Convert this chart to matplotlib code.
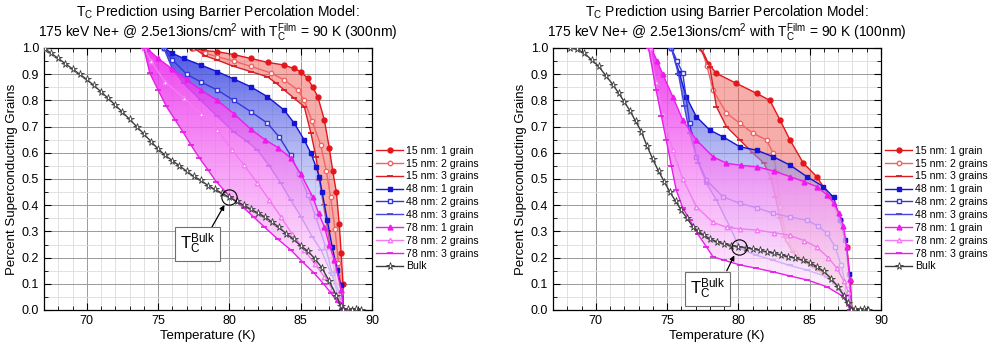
import matplotlib
matplotlib.use('Agg')
import matplotlib.pyplot as plt
from matplotlib.patches import Polygon
from matplotlib.ticker import MultipleLocator
import numpy as np

plt.rcParams['font.family'] = ['Liberation Sans', 'DejaVu Sans']
plt.rcParams['mathtext.default'] = 'regular'

# ---- data: (temperature K, fraction) ----
# left panel: 300 nm film
L_BULK = [(67.1, 0.995), (67.5, 0.98), (68.0, 0.96), (68.5, 0.94), (69.0, 0.92), (69.5, 0.90),
          (70.0, 0.88), (70.5, 0.857), (71.0, 0.833), (71.5, 0.808), (72.0, 0.782), (72.5, 0.755),
          (73.0, 0.728), (73.5, 0.70), (74.0, 0.672), (74.5, 0.643), (75.0, 0.615), (75.5, 0.59),
          (76.0, 0.57), (76.5, 0.55), (77.0, 0.53), (77.5, 0.51), (78.0, 0.495), (78.5, 0.475),
          (79.0, 0.46), (79.5, 0.445), (80.0, 0.43), (80.5, 0.415), (81.0, 0.40), (81.5, 0.385),
          (82.0, 0.37), (82.5, 0.355), (83.0, 0.335), (83.5, 0.315), (84.0, 0.29), (84.5, 0.27),
          (85.0, 0.245), (85.5, 0.225), (86.0, 0.195), (86.5, 0.16), (87.0, 0.11), (87.5, 0.055),
          (87.8, 0.015), (88.0, 0.0), (88.3, 0.005), (88.6, 0.0), (88.9, 0.004), (89.2, 0.0)]
L_RED1 = [(77.4, 1.0), (78.2, 0.99), (79.15, 0.986), (80.3, 0.975), (81.5, 0.96), (82.7, 0.945),
          (83.84, 0.935), (84.5, 0.922), (85.02, 0.91), (85.49, 0.884), (85.85, 0.85), (86.2, 0.814),
          (86.66, 0.725), (87.0, 0.62), (87.25, 0.53), (87.5, 0.45), (87.7, 0.33), (87.84, 0.216),
          (87.96, 0.10), (88.0, 0.0)]
L_RED2 = [(77.5, 1.0), (78.3, 0.98), (79.15, 0.967), (80.3, 0.95), (81.5, 0.93), (82.9, 0.905),
          (83.84, 0.878), (84.79, 0.84), (85.25, 0.80), (85.8, 0.72), (86.4, 0.63), (86.8, 0.53),
          (87.1, 0.43), (87.4, 0.31), (87.65, 0.18), (87.85, 0.07), (87.95, 0.0)]
L_RED3 = [(77.5, 1.0), (78.3, 0.97), (79.15, 0.954), (80.3, 0.93), (81.5, 0.91), (82.67, 0.89),
          (83.3, 0.865), (83.84, 0.84), (84.55, 0.808), (85.25, 0.776), (85.72, 0.674), (86.07, 0.585),
          (86.3, 0.496), (86.6, 0.40), (86.9, 0.30), (87.2, 0.20), (87.5, 0.10), (87.9, 0.0)]
L_BLUE1 = [(75.4, 1.0), (76.0, 0.98), (76.8, 0.96), (78.0, 0.935), (79.15, 0.91), (80.3, 0.882),
           (81.5, 0.852), (82.67, 0.814), (83.84, 0.763), (84.55, 0.713), (85.25, 0.649), (85.72, 0.598),
           (86.07, 0.547), (86.3, 0.509), (86.5, 0.45), (86.86, 0.344), (87.2, 0.242), (87.56, 0.153),
           (87.8, 0.096), (87.92, 0.0)]
L_BLUE2 = [(75.4, 1.0), (76.0, 0.955), (77.0, 0.90), (78.0, 0.87), (79.15, 0.84), (80.3, 0.80),
           (81.5, 0.757), (82.67, 0.713), (83.5, 0.66), (84.3, 0.59), (84.88, 0.52), (85.5, 0.44),
           (86.05, 0.357), (86.74, 0.242), (87.2, 0.14), (87.67, 0.04), (87.9, 0.0)]
L_BLUE3 = [(75.4, 1.0), (76.0, 0.92), (76.8, 0.865), (78.0, 0.80), (79.15, 0.74), (80.3, 0.68),
           (81.2, 0.645), (81.97, 0.61), (82.8, 0.55), (83.61, 0.484), (84.3, 0.42), (85.02, 0.356),
           (85.8, 0.28), (86.43, 0.229), (87.13, 0.14), (87.84, 0.05), (88.0, 0.0)]
L_MAG1 = [(74.2, 1.0), (75.0, 0.96), (76.0, 0.92), (77.0, 0.88), (78.0, 0.84), (79.15, 0.80),
          (80.3, 0.75), (81.5, 0.69), (82.5, 0.65), (83.4, 0.62), (84.3, 0.58), (85.0, 0.52),
          (85.84, 0.432), (86.25, 0.37), (86.66, 0.318), (87.0, 0.25), (87.37, 0.19), (87.84, 0.076),
          (88.0, 0.0)]
L_MAG2 = [(74.0, 1.0), (74.5, 0.95), (75.5, 0.87), (76.8, 0.81), (78.0, 0.75), (79.15, 0.687),
          (80.2, 0.61), (81.0, 0.555), (81.97, 0.484), (82.8, 0.42), (83.61, 0.356), (84.4, 0.29),
          (85.25, 0.229), (86.0, 0.175), (86.66, 0.127), (87.2, 0.08), (87.6, 0.05), (88.0, 0.0)]
L_MAG3 = [(74.0, 1.0), (74.42, 0.904), (75.0, 0.84), (75.58, 0.777), (76.2, 0.725), (76.74, 0.68),
          (77.3, 0.63), (77.9, 0.58), (78.5, 0.535), (79.07, 0.49), (80.09, 0.43), (81.0, 0.39),
          (81.7, 0.355), (82.43, 0.318), (83.4, 0.27), (84.31, 0.229), (85.1, 0.185), (85.96, 0.14),
          (86.6, 0.10), (87.13, 0.064), (87.6, 0.03), (88.07, 0.0)]

# right panel: 100 nm film
R_BULK = [(68.2, 1.0), (68.7, 0.995), (69.2, 0.98), (69.7, 0.955), (70.2, 0.93), (70.7, 0.895),
          (71.2, 0.86), (71.6, 0.828), (72.0, 0.795), (72.4, 0.76), (72.8, 0.72), (73.2, 0.68),
          (73.6, 0.625), (74.0, 0.575), (74.4, 0.53), (74.8, 0.49), (75.2, 0.45), (75.6, 0.415),
          (76.0, 0.38), (76.4, 0.35), (76.8, 0.318), (77.2, 0.30), (77.6, 0.285), (78.0, 0.272),
          (78.5, 0.26), (79.0, 0.252), (79.5, 0.246), (80.0, 0.242), (80.5, 0.238), (81.0, 0.233),
          (81.5, 0.228), (82.0, 0.222), (82.5, 0.216), (83.0, 0.21), (83.5, 0.204), (84.0, 0.198),
          (84.5, 0.19), (85.0, 0.18), (85.5, 0.166), (86.0, 0.147), (86.5, 0.12), (87.0, 0.087),
          (87.4, 0.055), (87.7, 0.025), (87.9, 0.0), (88.2, 0.005), (88.5, 0.0), (88.8, 0.004), (89.1, 0.0)]
R_RED1 = [(77.4, 1.0), (77.9, 0.94), (78.46, 0.903), (79.86, 0.865), (81.27, 0.827), (82.21, 0.80),
          (82.92, 0.725), (83.62, 0.649), (84.56, 0.56), (85.5, 0.509), (86.42, 0.43), (87.14, 0.343),
          (87.6, 0.24), (87.85, 0.112), (87.96, 0.0)]
R_RED2 = [(77.4, 1.0), (77.8, 0.93), (78.22, 0.84), (79.16, 0.751), (80.1, 0.713), (81.04, 0.674),
          (81.98, 0.649), (82.44, 0.598), (82.68, 0.522), (82.92, 0.394), (83.38, 0.267), (84.0, 0.22),
          (85.15, 0.17), (86.3, 0.13), (87.26, 0.08), (87.9, 0.0)]
R_RED3 = [(77.3, 1.0), (77.99, 0.929), (78.46, 0.776), (79.16, 0.70), (80.1, 0.649), (81.04, 0.598),
          (81.8, 0.56), (82.3, 0.50), (82.6, 0.43), (82.9, 0.35), (83.2, 0.28), (83.8, 0.22),
          (84.45, 0.19), (85.62, 0.15), (86.8, 0.10), (87.73, 0.023), (87.9, 0.0)]
R_BLUE1 = [(75.3, 1.0), (75.87, 0.903), (76.34, 0.814), (77.05, 0.738), (77.99, 0.687), (78.92, 0.661),
           (80.1, 0.623), (81.27, 0.61), (82.44, 0.585), (83.62, 0.553), (84.8, 0.509), (85.96, 0.471),
           (86.67, 0.43), (87.14, 0.343), (87.49, 0.267), (87.75, 0.138), (87.9, 0.0)]
R_BLUE2 = [(75.3, 1.0), (75.7, 0.95), (76.1, 0.903), (76.58, 0.713), (77.05, 0.585), (77.75, 0.496),
           (78.92, 0.432), (80.1, 0.407), (81.3, 0.39), (82.44, 0.369), (83.6, 0.355), (84.8, 0.343),
           (85.6, 0.32), (86.2, 0.293), (86.8, 0.24), (87.2, 0.17), (87.6, 0.08), (87.9, 0.0)]
R_BLUE3 = [(75.3, 1.0), (75.8, 0.9), (76.2, 0.78), (76.58, 0.674), (77.2, 0.56), (77.8, 0.48),
           (78.46, 0.42), (79.39, 0.318), (80.1, 0.235), (81.2, 0.21), (82.44, 0.19), (83.6, 0.17),
           (84.79, 0.153), (86.2, 0.127), (87.14, 0.076), (87.85, 0.0)]
R_MAG1 = [(73.9, 1.0), (74.3, 0.95), (74.7, 0.90), (75.4, 0.814), (76.1, 0.725), (77.05, 0.649),
          (78.22, 0.585), (79.16, 0.56), (80.2, 0.552), (81.27, 0.547), (82.5, 0.53), (83.62, 0.509),
          (84.6, 0.49), (85.5, 0.471), (86.2, 0.44), (86.67, 0.41), (87.05, 0.37), (87.37, 0.32),
          (87.6, 0.24), (87.8, 0.12), (87.95, 0.0)]
R_MAG2 = [(73.8, 1.0), (74.2, 0.87), (74.7, 0.75), (75.4, 0.61), (76.1, 0.50), (77.05, 0.395),
          (78.2, 0.335), (79.2, 0.315), (80.1, 0.31), (81.3, 0.305), (82.5, 0.295), (83.6, 0.285),
          (84.6, 0.265), (85.5, 0.24), (86.3, 0.2), (86.9, 0.16), (87.4, 0.11), (87.7, 0.07),
          (87.95, 0.0)]
R_MAG3 = [(73.7, 1.0), (74.23, 0.84), (74.6, 0.74), (74.94, 0.649), (75.3, 0.55), (75.64, 0.458),
          (76.1, 0.39), (76.58, 0.344), (77.15, 0.29), (77.75, 0.242), (78.22, 0.203), (79.0, 0.19),
          (80.1, 0.172), (81.2, 0.16), (82.4, 0.146), (83.6, 0.13), (84.8, 0.115), (86.2, 0.089),
          (87.4, 0.05), (87.9, 0.0)]

LEGEND_LABELS = ['15 nm: 1 grain', '15 nm: 2 grains', '15 nm: 3 grains',
                 '48 nm: 1 grain', '48 nm: 2 grains', '48 nm: 3 grains',
                 '78 nm: 1 grain', '78 nm: 2 grains', '78 nm: 3 grains', 'Bulk']
TITLE1 = 'T$_C$ Prediction using Barrier Percolation Model:'
TITLE2 = '175 keV Ne+ @ 2.5e13ions/cm$^2$ with T$_C^{Film}$ = 90 K (THICK)'
THICKNESS = ['300nm', '100nm']
TC_BULK = [(80.0, 0.432), (80.05, 0.24)]

RED, BLUE, MAG = '#e3161c', '#1414d2', '#ee1aee'
STYLES = [
    dict(color=RED, marker='o', ms=3.5, mfc=RED),
    dict(color='#f26464', marker='o', ms=3.2, mfc='white'),
    dict(color='#d81e24', marker='_', ms=4, mew=1.3),
    dict(color=BLUE, marker='s', ms=3.3, mfc=BLUE),
    dict(color='#3535e0', marker='s', ms=3.0, mfc='white'),
    dict(color='#4646dc', marker='_', ms=4, mew=1.3),
    dict(color=MAG, marker='^', ms=3.5, mfc=MAG),
    dict(color='#f27af2', marker='^', ms=3.2, mfc='white'),
    dict(color='#e620e6', marker='_', ms=4, mew=1.3),
    dict(color='#3c3c3c', marker='*', ms=5.5, mfc='white', mew=0.6),
]


def band_polygon(ax, upper, lower):
    verts = list(upper) + list(reversed(lower))
    patch = Polygon(verts, closed=True, facecolor='none', edgecolor='none')
    ax.add_patch(patch)
    return patch


def gradient_band(ax, upper, lower, rgb, a_top, a_bot, z):
    # vertical gradient: strong colour at f=1, washed towards white at f=0
    patch = band_polygon(ax, upper, lower)
    s = np.linspace(0, 1, 256)
    img = np.zeros((256, 1, 4))
    for k in range(3):
        img[:, 0, k] = 1 - (1 - rgb[k]) * s
    img[:, 0, 3] = a_bot + (a_top - a_bot) * s
    im = ax.imshow(img, extent=[67, 90, 0, 1], origin='lower', aspect='auto',
                   interpolation='bilinear', zorder=z)
    im.set_clip_path(patch)


def draw_curve(ax, pts, style, z):
    t, f = zip(*pts)
    ax.plot(t, f, lw=1.0, zorder=z, **style)


def draw_panel(ax, curves, bulk, circ, box_xy, arrow_from):
    red, blue, mag = curves[0:3], curves[3:6], curves[6:9]
    # red band: flat salmon fill
    ax.fill([v[0] for v in red[0]] + [v[0] for v in red[2][::-1]],
            [v[1] for v in red[0]] + [v[1] for v in red[2][::-1]],
            color='#ee4a44', alpha=0.45, lw=0, zorder=1)
    for i in range(3):
        draw_curve(ax, red[i], STYLES[i], 2)
    gradient_band(ax, blue[0], blue[2], (0.2, 0.25, 0.88), 0.9, 0.15, 3)
    for i in range(3):
        draw_curve(ax, blue[i], STYLES[3 + i], 4)
    gradient_band(ax, mag[0], mag[2], (0.93, 0.12, 0.93), 0.85, 0.72, 5)
    for i in range(3):
        draw_curve(ax, mag[i], STYLES[6 + i], 6)
    draw_curve(ax, bulk, STYLES[9], 7)

    # T_C bulk marker
    ax.plot([circ[0]], [circ[1]], marker='o', ms=11, mfc='none', mec='k', mew=0.8, zorder=9)
    ax.annotate('', xy=(circ[0] - 0.25, circ[1] - 0.022), xytext=arrow_from,
                arrowprops=dict(arrowstyle='-|>', color='k', lw=0.9, mutation_scale=7),
                zorder=9)
    ax.text(box_xy[0], box_xy[1], r'T$_C^{Bulk}$', fontsize=12, ha='center', va='center',
            zorder=10,
            bbox=dict(boxstyle='square,pad=0.3', fc='white', ec='#707070', lw=0.8))

    ax.set_xlim(67, 90)
    ax.set_ylim(0, 1)
    ax.xaxis.set_major_locator(MultipleLocator(5))
    ax.xaxis.set_minor_locator(MultipleLocator(1))
    ax.yaxis.set_major_locator(MultipleLocator(0.1))
    ax.yaxis.set_minor_locator(MultipleLocator(0.05))
    ax.yaxis.set_major_formatter(plt.FormatStrFormatter('%.1f'))
    ax.tick_params(which='both', direction='in', top=True, right=True, labelsize=9)
    ax.tick_params(which='major', length=5, width=0.8)
    ax.tick_params(which='minor', length=3, width=0.6)
    ax.grid(which='major', color='#9a9a9a', lw=0.7)
    ax.grid(which='minor', color='#dcdcdc', lw=0.6)
    ax.set_axisbelow(True)
    for s in ax.spines.values():
        s.set_linewidth(0.9)
    ax.set_xlabel('Temperature (K)', fontsize=9.5, labelpad=2)
    ax.set_ylabel('Percent Superconducting Grains', fontsize=9.5, labelpad=3)

    handles = ax.get_lines()[:10]
    ax.legend(handles, LEGEND_LABELS, loc='center left', bbox_to_anchor=(1.012, 0.387),
              frameon=False, fontsize=7.6, handlelength=2.6, handletextpad=0.25,
              labelspacing=0.27, borderpad=0, borderaxespad=0)


fig = plt.figure(figsize=(9.93, 3.53), dpi=100)
ax1 = fig.add_axes([44 / 993, 1 - 310 / 353, 328 / 993, 262 / 353])
ax2 = fig.add_axes([553 / 993, 1 - 310 / 353, 328 / 993, 262 / 353])

draw_panel(ax1, [L_RED1, L_RED2, L_RED3, L_BLUE1, L_BLUE2, L_BLUE3, L_MAG1, L_MAG2, L_MAG3],
           L_BULK, TC_BULK[0], (77.75, 0.252), (78.6, 0.30))
draw_panel(ax2, [R_RED1, R_RED2, R_RED3, R_BLUE1, R_BLUE2, R_BLUE3, R_MAG1, R_MAG2, R_MAG3],
           R_BULK, TC_BULK[1], (77.8, 0.08), (79.1, 0.14))

for cx, th in [(218, THICKNESS[0]), (727, THICKNESS[1])]:
    fig.text(cx / 993, 1 - 12 / 353, TITLE1, ha='center', va='center', fontsize=10)
    fig.text(cx / 993, 1 - 32 / 353, TITLE2.replace('THICK', th), ha='center', va='center',
             fontsize=10)

fig.savefig('out.png', dpi=100)
